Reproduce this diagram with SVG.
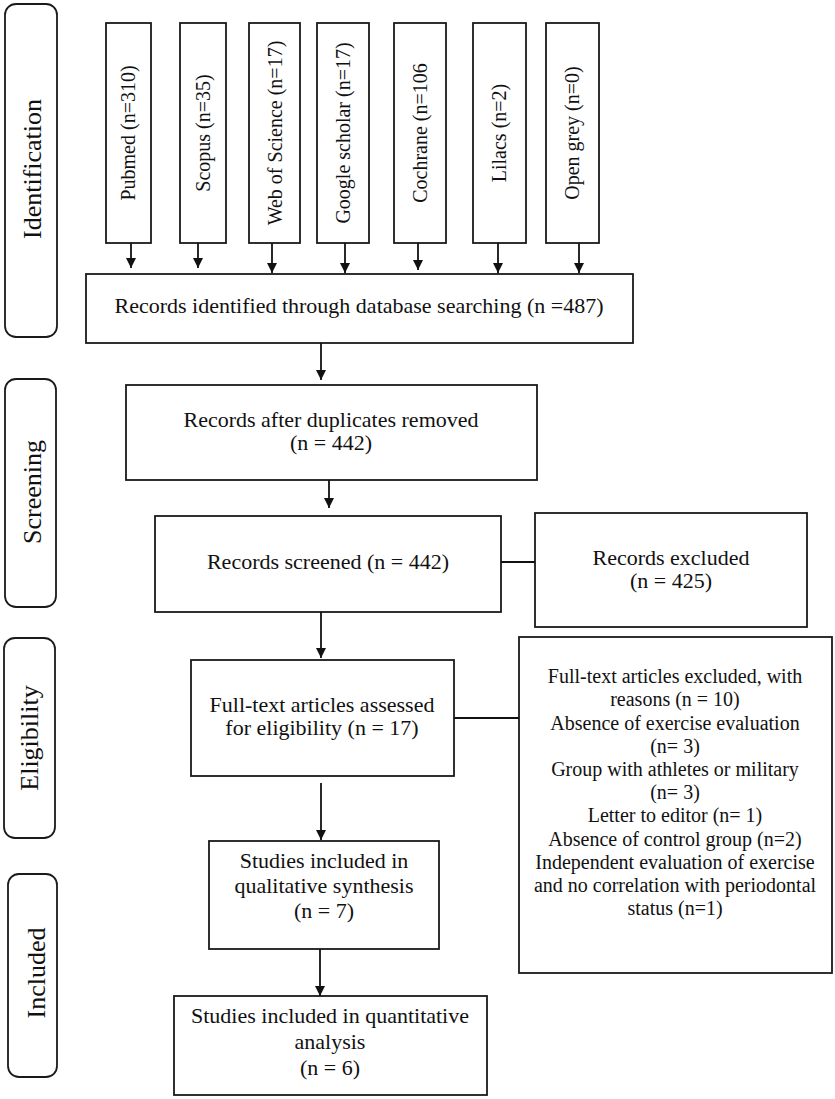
<svg xmlns="http://www.w3.org/2000/svg" width="835" height="1099" viewBox="0 0 835 1099">
<defs>
<marker id="ah" viewBox="0 0 10 10" refX="10" refY="5" markerWidth="10" markerHeight="10" markerUnits="userSpaceOnUse" orient="auto">
<path d="M0,0 L10,5 L0,10 Z" fill="#111"/>
</marker>
<style>
.box{fill:#fff;stroke:#1a1a1a;stroke-width:1.8}
.lbl{fill:#fff;stroke:#1a1a1a;stroke-width:1.8}
.t{font-family:"Liberation Serif","Times New Roman",serif;font-size:22px;fill:#111;text-anchor:middle}
.s{font-family:"Liberation Serif","Times New Roman",serif;font-size:20px;fill:#111;text-anchor:middle}
.L{font-family:"Liberation Serif","Times New Roman",serif;font-size:26px;fill:#111;text-anchor:middle}
.c{fill:none;stroke:#111;stroke-width:1.8}
</style>
</defs>
<rect width="835" height="1099" fill="#fff"/>

<g id="stage-identification"><rect class="lbl" x="5" y="4" width="52" height="333" rx="11"/><text class="L" transform="translate(41,169) rotate(-90)">Identification</text></g>
<g id="stage-screening"><rect class="lbl" x="5" y="379" width="51" height="228" rx="11"/><text class="L" transform="translate(41,492) rotate(-90)">Screening</text></g>
<g id="stage-eligibility"><rect class="lbl" x="4" y="638" width="51" height="200" rx="11"/><text class="L" transform="translate(38,738) rotate(-90)">Eligibility</text></g>
<g id="stage-included"><rect class="lbl" x="8" y="874" width="49" height="203" rx="11"/><text class="L" transform="translate(45,973) rotate(-90)">Included</text></g>

<g id="src-pubmed"><rect class="box" x="106" y="23" width="45" height="220"/><text class="s" transform="translate(135,133) rotate(-90)">Pubmed (n=310)</text></g>
<g id="src-scopus"><rect class="box" x="180" y="23" width="46" height="220"/><text class="s" transform="translate(210,133) rotate(-90)">Scopus (n=35)</text></g>
<g id="src-wos"><rect class="box" x="249" y="23" width="51" height="220"/><text class="s" transform="translate(282,133) rotate(-90)">Web of Science (n=17)</text></g>
<g id="src-google"><rect class="box" x="317" y="23" width="52" height="220"/><text class="s" transform="translate(350,133) rotate(-90)">Google scholar (n=17)</text></g>
<g id="src-cochrane"><rect class="box" x="394" y="23" width="52" height="220"/><text class="s" transform="translate(427,133) rotate(-90)">Cochrane (n=106</text></g>
<g id="src-lilacs"><rect class="box" x="473" y="23" width="53" height="220"/><text class="s" transform="translate(506,133) rotate(-90)">Lilacs (n=2)</text></g>
<g id="src-opengrey"><rect class="box" x="546" y="23" width="53" height="220"/><text class="s" transform="translate(579,133) rotate(-90)">Open grey (n=0)</text></g>

<g id="identified"><rect class="box" x="86" y="274" width="547" height="69"/><text class="t" x="359" y="313">Records identified through database searching (n =487)</text></g>
<g id="duplicates"><rect class="box" x="126" y="385" width="411" height="95"/><text class="t" x="331" y="427">Records after duplicates removed</text><text class="t" x="331" y="450">(n = 442)</text></g>
<g id="screened"><rect class="box" x="155" y="516" width="346" height="96"/><text class="t" x="328" y="569">Records screened (n = 442)</text></g>
<g id="excluded"><rect class="box" x="535" y="513" width="272" height="114"/><text class="t" x="671" y="565">Records excluded</text><text class="t" x="671" y="588">(n = 425)</text></g>
<g id="fulltext"><rect class="box" x="191" y="660" width="263" height="116"/><text class="t" x="322" y="712">Full-text articles assessed</text><text class="t" x="322" y="735">for eligibility (n = 17)</text></g>
<g id="fulltext-excluded"><rect class="box" x="519" y="637" width="313" height="336"/>
<text class="s" x="675" y="683">Full-text articles excluded, with</text>
<text class="s" x="675" y="706">reasons (n = 10)</text>
<text class="s" x="675" y="730">Absence of exercise evaluation</text>
<text class="s" x="675" y="753">(n= 3)</text>
<text class="s" x="675" y="776">Group with athletes or military</text>
<text class="s" x="675" y="799">(n= 3)</text>
<text class="s" x="675" y="822">Letter to editor (n= 1)</text>
<text class="s" x="675" y="846">Absence of control group (n=2)</text>
<text class="s" x="675" y="869">Independent evaluation of exercise</text>
<text class="s" x="675" y="892">and no correlation with periodontal</text>
<text class="s" x="675" y="915">status (n=1)</text></g>
<g id="qualitative"><rect class="box" x="209" y="841" width="230" height="108"/><text class="t" x="324" y="868">Studies included in</text><text class="t" x="324" y="893">qualitative synthesis</text><text class="t" x="324" y="918">(n = 7)</text></g>
<g id="quantitative"><rect class="box" x="174" y="996" width="313" height="99"/><text class="t" x="330" y="1023">Studies included in quantitative</text><text class="t" x="330" y="1049">analysis</text><text class="t" x="330" y="1075">(n = 6)</text></g>

<g id="connectors">
<line class="c" x1="131" y1="243" x2="131" y2="268" marker-end="url(#ah)"/>
<line class="c" x1="198" y1="243" x2="198" y2="268" marker-end="url(#ah)"/>
<line class="c" x1="272" y1="243" x2="272" y2="273" marker-end="url(#ah)"/>
<line class="c" x1="345" y1="243" x2="345" y2="273" marker-end="url(#ah)"/>
<line class="c" x1="418" y1="243" x2="418" y2="270" marker-end="url(#ah)"/>
<line class="c" x1="498" y1="243" x2="498" y2="273" marker-end="url(#ah)"/>
<line class="c" x1="579" y1="243" x2="579" y2="273" marker-end="url(#ah)"/>
<line class="c" x1="321" y1="343" x2="321" y2="380" marker-end="url(#ah)"/>
<line class="c" x1="329" y1="480" x2="329" y2="508" marker-end="url(#ah)"/>
<line class="c" x1="321" y1="612" x2="321" y2="658" marker-end="url(#ah)"/>
<line class="c" x1="321" y1="783" x2="321" y2="840" marker-end="url(#ah)"/>
<line class="c" x1="320" y1="949" x2="320" y2="996" marker-end="url(#ah)"/>
<line class="c" x1="501" y1="562" x2="535" y2="562"/>
<line class="c" x1="454" y1="718" x2="519" y2="718"/>
</g>
</svg>
